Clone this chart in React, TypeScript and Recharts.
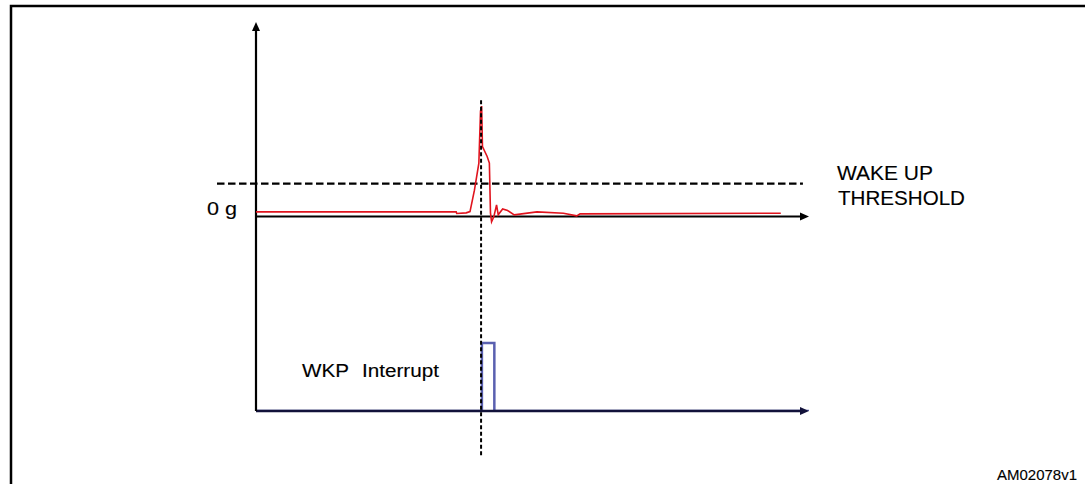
import { LineChart, Line, XAxis, YAxis, ReferenceLine } from 'recharts';

// time axis runs 0..100 (arbitrary units), signal in g-ish units (threshold = 1)
const signalTimes = [0, 36.2, 36.3, 38.0, 38.7, 39.5, 40.3, 40.6, 40.8, 40.95, 41.8, 42.2, 42.4, 42.6, 43.0, 43.5, 43.8, 44.6, 45.5, 46.7, 50.8, 55.6, 58.0, 58.6, 94.9];
const signalValues = [0.14, 0.14, 0.09, 0.11, 0.15, 0.8, 1.62, 3.2, 3.35, 2.12, 1.82, 1.62, 0.11, -0.16, -0.01, 0.35, 0.05, 0.23, 0.18, 0.05, 0.14, 0.10, 0.02, 0.08, 0.10];

const pulseTimes = [0, 40.85, 40.85, 43.1, 43.1, 100];
const pulseValues = [0, 0, 1, 1, 0, 0];

const threshold = 1;
const triggerTime = 40.7;

const signalData = signalTimes.map((t, i) => ({ t, v: signalValues[i] }));
const pulseData = pulseTimes.map((t, i) => ({ t, v: pulseValues[i] }));

const FONT = '"Liberation Sans", Arial, sans-serif';

const Arrow = (props: any) => {
  const { x1, y1, x2, y2, stroke, strokeWidth } = props;
  const dx = x2 - x1;
  const dy = y2 - y1;
  const len = Math.sqrt(dx * dx + dy * dy) || 1;
  const ux = dx / len;
  const uy = dy / len;
  const hl = 9;
  const hw = 4;
  const bx = x2 - ux * hl;
  const by = y2 - uy * hl;
  const pts = `${x2},${y2} ${bx - uy * hw},${by + ux * hw} ${bx + uy * hw},${by - ux * hw}`;
  return (
    <g>
      <line x1={x1} y1={y1} x2={bx} y2={by} stroke={stroke} strokeWidth={strokeWidth} />
      <polygon points={pts} fill={stroke} />
    </g>
  );
};

export default function App() {
  return (
    <div style={{ position: 'absolute', left: 0, top: 0, width: 1085, height: 484, background: '#fff', overflow: 'hidden' }}>
      <div style={{ position: 'absolute', left: 0, top: 0 }}>
        <LineChart width={1085} height={484} margin={{ top: 22, right: 276, bottom: 73, left: 256 }}>
          <XAxis type="number" dataKey="t" domain={[0, 100]} allowDataOverflow hide />
          <YAxis yAxisId="g" type="number" domain={[-5.9, 5.9]} allowDataOverflow hide />
          <YAxis yAxisId="irq" type="number" domain={[0, 5.72]} allowDataOverflow hide />

          <ReferenceLine
            yAxisId="g"
            segment={[{ x: -7.05, y: threshold }, { x: 98.9, y: threshold }]}
            stroke="#000"
            strokeWidth={2.3}
            strokeDasharray="7.5 3.5"
            ifOverflow="visible"
          />

          <Line
            yAxisId="irq"
            data={pulseData}
            dataKey="v"
            type="linear"
            stroke="#5a60b0"
            strokeWidth={2.5}
            dot={false}
            isAnimationActive={false}
          />

          <ReferenceLine
            yAxisId="g"
            segment={[{ x: 0, y: 0 }, { x: 100, y: 0 }]}
            stroke="#000"
            strokeWidth={2.2}
            ifOverflow="visible"
            shape={Arrow}
          />
          <ReferenceLine
            yAxisId="irq"
            segment={[{ x: 0, y: 0 }, { x: 100, y: 0 }]}
            stroke="#12123a"
            strokeWidth={2.5}
            ifOverflow="visible"
            shape={Arrow}
          />
          <ReferenceLine
            yAxisId="g"
            segment={[{ x: 0, y: -5.9 }, { x: 0, y: 5.9 }]}
            stroke="#000"
            strokeWidth={2.2}
            ifOverflow="visible"
            shape={Arrow}
          />

          <Line
            yAxisId="g"
            data={signalData}
            dataKey="v"
            type="linear"
            stroke="#e0141e"
            strokeWidth={1.6}
            dot={false}
            isAnimationActive={false}
          />

          <ReferenceLine
            yAxisId="g"
            segment={[{ x: triggerTime, y: 3.53 }, { x: triggerTime, y: -7.32 }]}
            stroke="#000"
            strokeWidth={2}
            strokeDasharray="4 2.5"
            ifOverflow="visible"
          />
        </LineChart>
      </div>
      <svg
        width={1085}
        height={484}
        style={{ position: 'absolute', left: 0, top: 0, pointerEvents: 'none' }}
      >
        <path d="M11,500 V6 H1100" fill="none" stroke="#000" strokeWidth={2.5} />
        <g fontFamily={FONT} fill="#000" stroke="#000" strokeWidth={0.12}>
          <text x={207} y={215} fontSize={17.5} textLength={30} lengthAdjust="spacingAndGlyphs">0 g</text>
          <text x={837} y={180} fontSize={19.5} textLength={96} lengthAdjust="spacingAndGlyphs">WAKE UP</text>
          <text x={838} y={205} fontSize={19.5} textLength={127} lengthAdjust="spacingAndGlyphs">THRESHOLD</text>
          <text x={302} y={377} fontSize={17.5} textLength={47} lengthAdjust="spacingAndGlyphs">WKP</text>
          <text x={362} y={377} fontSize={17.5} textLength={77} lengthAdjust="spacingAndGlyphs">Interrupt</text>
          <text x={997} y={480} fontSize={14} textLength={80} lengthAdjust="spacingAndGlyphs">AM02078v1</text>
        </g>
      </svg>
    </div>
  );
}
